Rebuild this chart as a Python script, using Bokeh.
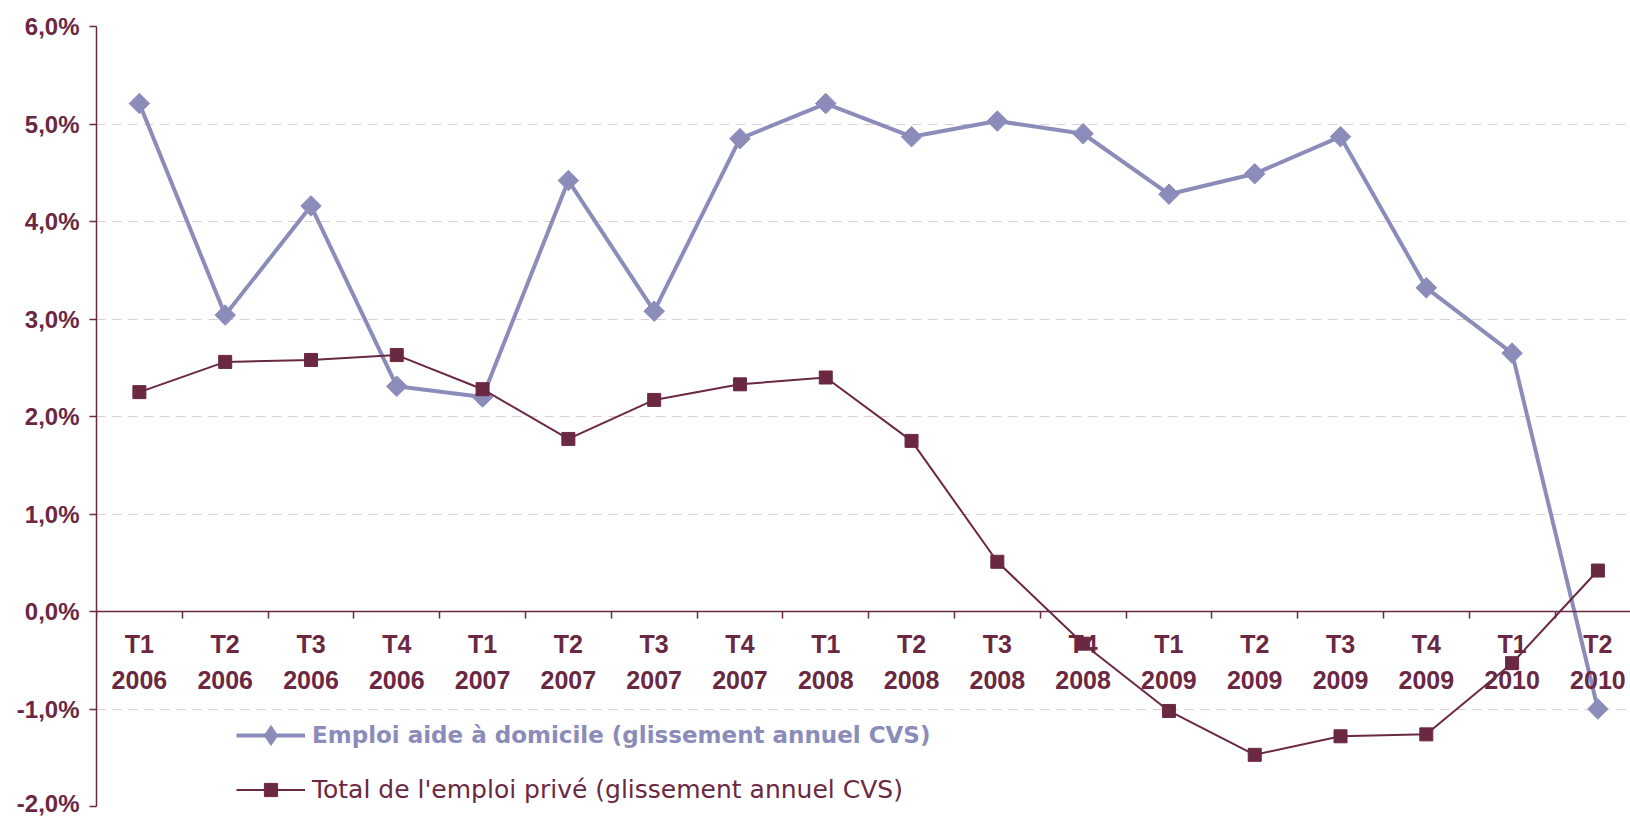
from bokeh.plotting import figure
from bokeh.models import (Range1d, FixedTicker, LinearAxis, Legend, LegendItem, ColumnDataSource)
from bokeh.embed import file_html
from bokeh.resources import INLINE
import math

quarters = ["T1", "T2", "T3", "T4", "T1", "T2", "T3", "T4", "T1", "T2", "T3", "T4",
            "T1", "T2", "T3", "T4", "T1", "T2"]
years = ["2006"] * 4 + ["2007"] * 4 + ["2008"] * 4 + ["2009"] * 4 + ["2010"] * 2
aide_domicile = [5.21, 3.04, 4.16, 2.31, 2.20, 4.42, 3.08, 4.85, 5.21, 4.87, 5.03, 4.90,
                 4.28, 4.49, 4.87, 3.32, 2.65, -1.00]
emploi_prive = [2.25, 2.56, 2.58, 2.63, 2.28, 1.77, 2.17, 2.33, 2.40, 1.75, 0.51, -0.33,
                -1.02, -1.47, -1.28, -1.26, -0.53, 0.42]
y_ticks = [-2, -1, 0, 1, 2, 3, 4, 5, 6]
y_labels = ["-2,0%", "-1,0%", "0,0%", "1,0%", "2,0%", "3,0%", "4,0%", "5,0%", "6,0%"]
legend_labels = ["Emploi aide à domicile (glissement annuel CVS)",
                 "Total de l'emploi privé (glissement annuel CVS)"]

BLUE = "#8B8CBA"
MAROON = "#6B2842"
GRID = "#DCCFD3"
FONT = "Liberation Sans"
LEGEND_FONT = "DejaVu Sans"

x = list(range(len(quarters)))
src = ColumnDataSource(dict(x=x, a=aide_domicile, b=emploi_prive))

p = figure(width=1630, height=816, output_backend="svg", toolbar_location=None,
           x_range=Range1d(-0.5, 17.38), y_range=Range1d(-2, 6),
           min_border_left=96, min_border_right=0, min_border_top=26, min_border_bottom=10,
           x_axis_location=None, y_axis_location=None)
p.outline_line_color = None
p.background_fill_color = "white"

# Y axis
yax = LinearAxis(ticker=FixedTicker(ticks=y_ticks),
                 major_label_overrides={t: l for t, l in zip(y_ticks, y_labels)})
yax.axis_line_color = MAROON
yax.axis_line_width = 1.5
yax.major_tick_line_color = MAROON
yax.major_tick_line_width = 1.5
yax.major_tick_out = 7
yax.major_tick_in = 0
yax.minor_tick_line_color = None
yax.major_label_standoff = 10
yax.major_label_text_font = FONT
yax.major_label_text_font_style = "bold"
yax.major_label_text_font_size = "24px"
yax.major_label_text_color = MAROON
p.add_layout(yax, "left")

# X axis ticks (category boundaries)
xt = LinearAxis(ticker=FixedTicker(ticks=[i + 0.5 for i in range(-1, 18)]), fixed_location=0)
xt.axis_line_color = MAROON
xt.axis_line_width = 1.5
xt.major_tick_line_color = MAROON
xt.major_tick_line_width = 1.5
xt.major_tick_out = 7
xt.major_tick_in = 0
xt.minor_tick_line_color = None
xt.major_label_text_font_size = "0px"
xt.major_label_text_color = None
p.add_layout(xt, "below")

# X axis labels (category centers)
xl = LinearAxis(ticker=FixedTicker(ticks=x), fixed_location=0,
                major_label_overrides={i: f"{q}\n{y}" for i, (q, y) in enumerate(zip(quarters, years))})
xl.axis_line_color = None
xl.major_tick_line_color = None
xl.minor_tick_line_color = None
xl.major_tick_out = 7
xl.major_label_standoff = 11
xl.major_label_text_font = FONT
xl.major_label_text_font_style = "bold"
xl.major_label_text_font_size = "25px"
xl.major_label_text_color = MAROON
xl.major_label_text_line_height = 1.3
p.add_layout(xl, "below")

p.xgrid.visible = False
p.ygrid.ticker = FixedTicker(ticks=y_ticks)
p.ygrid.grid_line_color = GRID
p.ygrid.grid_line_dash = "9 7"
p.ygrid.grid_line_width = 1.2

la = p.line("x", "a", source=src, line_color=BLUE, line_width=4)
# diamond used for the legend symbol; hidden beneath the rotated squares below
ma_leg = p.scatter("x", "a", source=src, marker="diamond", size=18,
                   fill_color=BLUE, line_color=BLUE)
ma = p.scatter("x", "a", source=src, marker="square", size=14.5, angle=math.pi / 4,
               fill_color=BLUE, line_color=BLUE)
lb = p.line("x", "b", source=src, line_color=MAROON, line_width=2)
mb = p.scatter("x", "b", source=src, marker="square", size=13,
               fill_color=MAROON, line_color=MAROON)

leg1 = Legend(items=[LegendItem(label=legend_labels[0], renderers=[la, ma_leg])],
              location=(140, 46), orientation="vertical")
leg2 = Legend(items=[LegendItem(label=legend_labels[1], renderers=[lb, mb])],
              location=(140, 0), orientation="vertical")
for lg, col, style, fs, gh in [(leg1, BLUE, "bold", "23px", 50),
                               (leg2, MAROON, "normal", "25px", 33)]:
    lg.border_line_color = None
    lg.background_fill_alpha = 0
    lg.padding = 0
    lg.margin = 0
    lg.glyph_width = 69
    lg.glyph_height = gh
    lg.label_standoff = 7
    lg.label_text_font = LEGEND_FONT
    lg.label_text_font_style = style
    lg.label_text_font_size = fs
    lg.label_text_color = col
    lg.label_height = 24
    p.add_layout(lg, "center")

open("out.html", "w").write(file_html(p, INLINE))
